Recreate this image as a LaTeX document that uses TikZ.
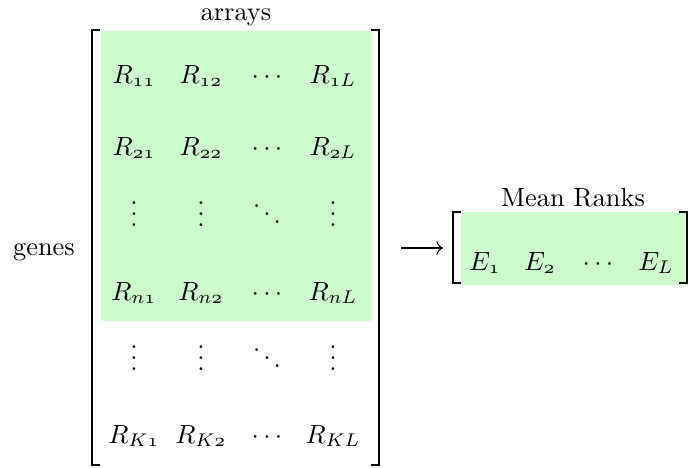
\documentclass[tikz,border=0pt]{standalone}
\usetikzlibrary{arrows.meta}
\definecolor{rankfill}{HTML}{CCFCCC}
\begin{document}
\begin{tikzpicture}[
        x=0.38pt, y=-0.38pt,
        entry/.style={anchor=base, inner sep=0pt},
        bracket_line/.style={line width=0.8pt},
        side_label/.style={anchor=base}
    ]
        \useasboundingbox (0,0) rectangle (688,468);
        % Zelene plochy
        \fill[rankfill] (101,31) rectangle (371,321);
        \fill[rankfill] (461,212) rectangle (688,285);
        % Matice poradi: radek/baseline/sloupce
        \foreach \r/\yy/\ca/\cb/\cc/\cd in {
                1/83/R_{\mathnormal{11}}/R_{\mathnormal{12}}/\cdots/R_{\mathnormal{1}L},
                2/155/R_{\mathnormal{21}}/R_{\mathnormal{22}}/\cdots/R_{\mathnormal{2}L},
                3/226/\vdots/\vdots/\ddots/\vdots,
                4/300/R_{n\mathnormal{1}}/R_{n\mathnormal{2}}/\cdots/R_{nL},
                5/370/\vdots/\vdots/\ddots/\vdots,
                6/443/R_{K\mathnormal{1}}/R_{K\mathnormal{2}}/\cdots/R_{KL}} {
            \node[entry] (r\r-1) at (134,\yy) {$\ca$};
            \node[entry] (r\r-2) at (201,\yy) {$\cb$};
            \node[entry] (r\r-3) at (267,\yy) {$\cc$};
            \node[entry] (r\r-4) at (333,\yy) {$\cd$};
        }
        \draw[bracket_line] (100,30) -- (92,30) -- (92,465) -- (100,465);
        \draw[bracket_line] (371,30) -- (379,30) -- (379,465) -- (371,465);
        % Prumerna poradi
        \node[entry] (e1) at (485,270) {$E_{\mathnormal{1}}$};
        \node[entry] (e2) at (540,270) {$E_{\mathnormal{2}}$};
        \node[entry] (edots) at (598,270) {$\cdots$};
        \node[entry] (eL) at (656,270) {$E_L$};
        \draw[bracket_line] (461,212) -- (453,212) -- (453,283) -- (461,283);
        \draw[bracket_line] (679,212) -- (687,212) -- (687,283) -- (679,283);
        % Popisky
        \node[side_label] (arrays) at (236,20) {arrays};
        \node[side_label] (genes) at (44,255) {genes};
        \node[side_label] (meanranks) at (573,206) {Mean Ranks};
        % Sipka
        \coordinate (arrowtail) at (401,248);
        \coordinate (arrowhead) at (443,248);
        \draw[-{Computer Modern Rightarrow}, line width=0.4pt] (arrowtail) -- (arrowhead);
    \end{tikzpicture}
\end{document}
